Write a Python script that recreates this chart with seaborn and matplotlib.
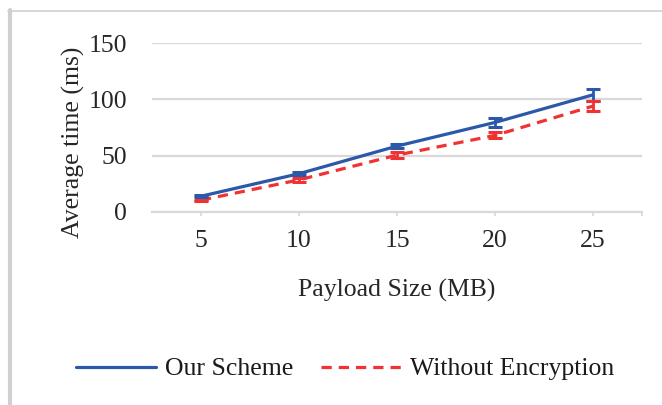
import matplotlib
matplotlib.use("Agg")
import matplotlib.pyplot as plt
from matplotlib.lines import Line2D
import seaborn as sns
import pandas as pd

# Payload sizes (MB) and average processing time (ms)
payload_sizes = [5, 10, 15, 20, 25]
our_scheme = [14, 34, 58.5, 79.5, 104]
our_scheme_err = [0.7, 1.5, 2, 3.8, 5.5]
without_enc = [10.5, 28.5, 50.5, 68, 94]
without_enc_err = [0.5, 1.5, 2.5, 2.7, 4.6]
series_names = ["Our Scheme", "Without Encryption"]
y_ticks = [0, 50, 100, 150]

blue = "#2B58A8"
red = "#F03232"
grid_gray = "#D9D9D9"

sns.set_theme(style="white")
plt.rcParams["font.family"] = ["Liberation Serif", "DejaVu Serif"]
plt.rcParams["text.color"] = "#1a1a1a"

df = pd.DataFrame({
    "size": payload_sizes * 2,
    "time": our_scheme + without_enc,
    "series": [series_names[0]] * len(payload_sizes) + [series_names[1]] * len(payload_sizes),
})

fig = plt.figure(figsize=(6.62, 4.05), dpi=100)
ax = fig.add_axes([152 / 662, 1 - 212 / 405, 490 / 662, 169 / 405])

sns.lineplot(data=df, x="size", y="time", hue="series", style="series",
             palette=[blue, red], dashes=[(1, 0), (3.2, 2.2)],
             linewidth=2.3, ax=ax, legend=False, zorder=3)

ax.errorbar(payload_sizes, our_scheme, yerr=our_scheme_err, fmt="none",
            ecolor=blue, elinewidth=2, capsize=4.8, capthick=2.2, zorder=4)
ax.errorbar(payload_sizes, without_enc, yerr=without_enc_err, fmt="none",
            ecolor=red, elinewidth=2, capsize=4.8, capthick=2.2, zorder=4)

ax.set_xlim(2.5, 27.5)
ax.set_ylim(0, 150)
ax.set_yticks(y_ticks)
ax.set_xticks(payload_sizes)
ax.set_xticks([27.5], minor=True)

ax.grid(axis="y", color=grid_gray, linewidth=1.6, zorder=0)
ax.grid(axis="x", visible=False)
for side in ["top", "right", "left"]:
    ax.spines[side].set_visible(False)
ax.spines["bottom"].set_color(grid_gray)
ax.spines["bottom"].set_linewidth(1.6)

ax.tick_params(axis="y", length=0, pad=18, labelsize=18.5)
ax.tick_params(axis="x", which="both", length=3, width=1.3, color=grid_gray,
               direction="out", pad=10, labelsize=18.5, bottom=True)

ax.set_xlabel("Payload Size (MB)", fontsize=18.5, labelpad=19)
ax.set_ylabel("Average time (ms)", fontsize=18.5)
ax.yaxis.set_label_coords(-0.137, 0.41)

handles = [
    Line2D([], [], color=blue, linewidth=2.3),
    Line2D([], [], color=red, linewidth=2.3, linestyle=(0, (3.2, 2.2))),
]
fig.legend(handles, series_names, loc="center", bbox_to_anchor=(345 / 662, 1 - 369 / 405),
           ncol=2, frameon=False, fontsize=18.5, handlelength=3.1, handletextpad=0.35,
           columnspacing=1.1)

# chart frame (left and top edges)
fig.add_artist(Line2D([10 / 662, 10 / 662], [0, 1 - 10 / 405], color="#D0D0D0",
                      linewidth=3, transform=fig.transFigure))
fig.add_artist(Line2D([8 / 662, 1], [1 - 10.5 / 405, 1 - 10.5 / 405], color="#D0D0D0",
                      linewidth=1.2, transform=fig.transFigure))

fig.savefig("out.png", dpi=100)
